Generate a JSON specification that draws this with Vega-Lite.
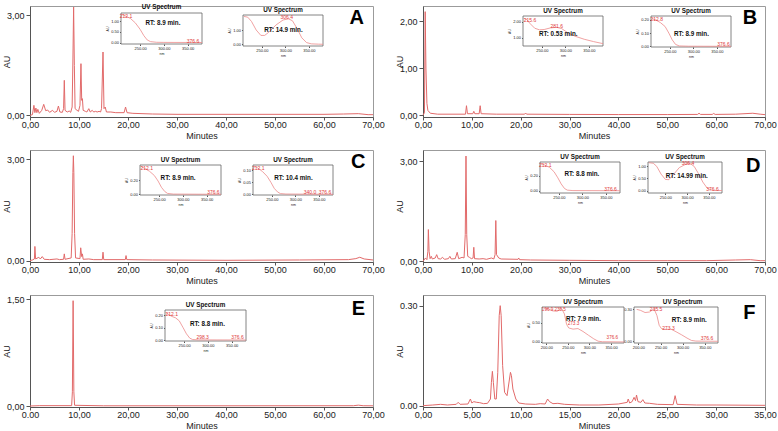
{
"$schema": "https://vega.github.io/schema/vega-lite/v6.json",
"padding": {"left": 1, "top": 3, "right": 0, "bottom": 0},
"background": "white",
"datasets": {
"chrom": [
{"p":"A","t":0,"y":0},{"p":"A","t":0.5,"y":0.02},{"p":"A","t":0.8,"y":0.3},{"p":"A","t":1.0,"y":0.08},{"p":"A","t":1.2,"y":0.22},{"p":"A","t":1.4,"y":0.08},{"p":"A","t":1.6,"y":0.18},{"p":"A","t":1.9,"y":0.06},{"p":"A","t":2.4,"y":0.15},{"p":"A","t":2.8,"y":0.33},{"p":"A","t":3.2,"y":0.14},{"p":"A","t":3.6,"y":0.16},{"p":"A","t":4.0,"y":0.09},{"p":"A","t":4.6,"y":0.15},{"p":"A","t":5.0,"y":0.09},{"p":"A","t":5.5,"y":0.12},{"p":"A","t":5.8,"y":0.28},{"p":"A","t":6.1,"y":0.1},{"p":"A","t":6.6,"y":0.09},{"p":"A","t":6.85,"y":0.2},{"p":"A","t":7.0,"y":1.05},{"p":"A","t":7.15,"y":0.15},{"p":"A","t":7.6,"y":0.1},{"p":"A","t":8.0,"y":0.13},{"p":"A","t":8.3,"y":0.09},{"p":"A","t":8.6,"y":0.25},{"p":"A","t":8.75,"y":1.6},{"p":"A","t":8.9,"y":3.25},{"p":"A","t":9.05,"y":1.5},{"p":"A","t":9.2,"y":0.2},{"p":"A","t":9.6,"y":0.15},{"p":"A","t":9.9,"y":0.12},{"p":"A","t":10.2,"y":0.3},{"p":"A","t":10.4,"y":1.55},{"p":"A","t":10.55,"y":0.45},{"p":"A","t":10.7,"y":0.5},{"p":"A","t":10.85,"y":0.15},{"p":"A","t":11.3,"y":0.12},{"p":"A","t":11.6,"y":0.1},{"p":"A","t":12.0,"y":0.2},{"p":"A","t":12.3,"y":0.1},{"p":"A","t":12.7,"y":0.15},{"p":"A","t":13.0,"y":0.1},{"p":"A","t":13.4,"y":0.12},{"p":"A","t":13.7,"y":0.1},{"p":"A","t":14.1,"y":0.12},{"p":"A","t":14.4,"y":0.1},{"p":"A","t":14.6,"y":0.2},{"p":"A","t":14.9,"y":1.9},{"p":"A","t":15.1,"y":0.2},{"p":"A","t":15.35,"y":0.25},{"p":"A","t":15.6,"y":0.1},{"p":"A","t":16.5,"y":0.1},{"p":"A","t":17.5,"y":0.08},{"p":"A","t":19.2,"y":0.08},{"p":"A","t":19.5,"y":0.25},{"p":"A","t":19.8,"y":0.08},{"p":"A","t":21,"y":0.06},{"p":"A","t":25,"y":0.04},{"p":"A","t":30,"y":0.03},{"p":"A","t":40,"y":0.03},{"p":"A","t":50,"y":0.03},{"p":"A","t":60,"y":0.03},{"p":"A","t":64,"y":0.04},{"p":"A","t":67,"y":0.05},{"p":"A","t":69,"y":0.02},{"p":"A","t":70,"y":0.02},
{"p":"B","t":0,"y":0},{"p":"B","t":0.3,"y":0.05},{"p":"B","t":0.45,"y":2.2},{"p":"B","t":0.6,"y":1.0},{"p":"B","t":0.8,"y":0.25},{"p":"B","t":1.0,"y":0.1},{"p":"B","t":1.5,"y":0.04},{"p":"B","t":3,"y":0.02},{"p":"B","t":8.7,"y":0.02},{"p":"B","t":8.9,"y":0.2},{"p":"B","t":9.1,"y":0.03},{"p":"B","t":10.2,"y":0.03},{"p":"B","t":10.4,"y":0.08},{"p":"B","t":10.6,"y":0.03},{"p":"B","t":11.5,"y":0.03},{"p":"B","t":11.7,"y":0.2},{"p":"B","t":11.9,"y":0.03},{"p":"B","t":15,"y":0.02},{"p":"B","t":20.8,"y":0.02},{"p":"B","t":21.0,"y":0.045},{"p":"B","t":21.2,"y":0.02},{"p":"B","t":30,"y":0.015},{"p":"B","t":40,"y":0.012},{"p":"B","t":50,"y":0.012},{"p":"B","t":56.2,"y":0.015},{"p":"B","t":56.5,"y":0.04},{"p":"B","t":56.8,"y":0.015},{"p":"B","t":59.2,"y":0.015},{"p":"B","t":59.5,"y":0.035},{"p":"B","t":59.8,"y":0.015},{"p":"B","t":64,"y":0.02},{"p":"B","t":67.5,"y":0.04},{"p":"B","t":69,"y":0.02},{"p":"B","t":70,"y":0.01},
{"p":"C","t":0,"y":0},{"p":"C","t":0.5,"y":0.02},{"p":"C","t":0.9,"y":0.05},{"p":"C","t":1.0,"y":0.42},{"p":"C","t":1.15,"y":0.05},{"p":"C","t":1.8,"y":0.1},{"p":"C","t":2.1,"y":0.05},{"p":"C","t":2.5,"y":0.12},{"p":"C","t":2.9,"y":0.04},{"p":"C","t":4,"y":0.03},{"p":"C","t":5.5,"y":0.05},{"p":"C","t":6.0,"y":0.03},{"p":"C","t":6.85,"y":0.04},{"p":"C","t":7.0,"y":0.2},{"p":"C","t":7.15,"y":0.04},{"p":"C","t":8.4,"y":0.08},{"p":"C","t":8.6,"y":0.8},{"p":"C","t":8.75,"y":2.6},{"p":"C","t":8.85,"y":3.1},{"p":"C","t":8.95,"y":2.6},{"p":"C","t":9.1,"y":0.8},{"p":"C","t":9.3,"y":0.08},{"p":"C","t":10.2,"y":0.06},{"p":"C","t":10.35,"y":0.38},{"p":"C","t":10.55,"y":0.12},{"p":"C","t":10.7,"y":0.2},{"p":"C","t":10.85,"y":0.04},{"p":"C","t":12,"y":0.05},{"p":"C","t":13,"y":0.03},{"p":"C","t":14.75,"y":0.03},{"p":"C","t":14.9,"y":0.25},{"p":"C","t":15.05,"y":0.03},{"p":"C","t":19.45,"y":0.03},{"p":"C","t":19.6,"y":0.15},{"p":"C","t":19.75,"y":0.03},{"p":"C","t":25,"y":0.02},{"p":"C","t":40,"y":0.01},{"p":"C","t":55,"y":0.02},{"p":"C","t":65,"y":0.03},{"p":"C","t":66.5,"y":0.06},{"p":"C","t":67.3,"y":0.1},{"p":"C","t":68.2,"y":0.05},{"p":"C","t":70,"y":0.02},
{"p":"D","t":0,"y":0},{"p":"D","t":0.5,"y":0.1},{"p":"D","t":0.8,"y":0.05},{"p":"D","t":1.0,"y":0.3},{"p":"D","t":1.1,"y":0.95},{"p":"D","t":1.25,"y":0.3},{"p":"D","t":1.45,"y":0.08},{"p":"D","t":1.7,"y":0.15},{"p":"D","t":1.9,"y":0.07},{"p":"D","t":2.5,"y":0.1},{"p":"D","t":2.8,"y":0.2},{"p":"D","t":3.1,"y":0.08},{"p":"D","t":3.6,"y":0.07},{"p":"D","t":4.0,"y":0.12},{"p":"D","t":4.4,"y":0.06},{"p":"D","t":5.2,"y":0.08},{"p":"D","t":5.5,"y":0.15},{"p":"D","t":5.8,"y":0.07},{"p":"D","t":6.6,"y":0.08},{"p":"D","t":7.0,"y":0.27},{"p":"D","t":7.3,"y":0.08},{"p":"D","t":8.0,"y":0.12},{"p":"D","t":8.4,"y":0.1},{"p":"D","t":8.65,"y":0.8},{"p":"D","t":8.8,"y":3.15},{"p":"D","t":8.95,"y":0.8},{"p":"D","t":9.15,"y":0.15},{"p":"D","t":9.5,"y":0.12},{"p":"D","t":9.9,"y":0.08},{"p":"D","t":10.25,"y":0.1},{"p":"D","t":10.4,"y":0.42},{"p":"D","t":10.55,"y":0.08},{"p":"D","t":11.5,"y":0.07},{"p":"D","t":12.3,"y":0.08},{"p":"D","t":13.0,"y":0.06},{"p":"D","t":14.0,"y":0.1},{"p":"D","t":14.5,"y":0.07},{"p":"D","t":14.75,"y":0.2},{"p":"D","t":14.9,"y":1.22},{"p":"D","t":15.05,"y":0.2},{"p":"D","t":15.5,"y":0.1},{"p":"D","t":16,"y":0.07},{"p":"D","t":19.45,"y":0.06},{"p":"D","t":19.6,"y":0.1},{"p":"D","t":19.75,"y":0.05},{"p":"D","t":22,"y":0.04},{"p":"D","t":30,"y":0.03},{"p":"D","t":40,"y":0.02},{"p":"D","t":50,"y":0.02},{"p":"D","t":58,"y":0.02},{"p":"D","t":64,"y":0.04},{"p":"D","t":67,"y":0.05},{"p":"D","t":69,"y":0.02},{"p":"D","t":70,"y":0.02},
{"p":"E","t":0,"y":0},{"p":"E","t":2,"y":0.005},{"p":"E","t":8.5,"y":0.005},{"p":"E","t":8.65,"y":0.2},{"p":"E","t":8.8,"y":1.48},{"p":"E","t":8.95,"y":0.2},{"p":"E","t":9.1,"y":0.01},{"p":"E","t":15,"y":0.003},{"p":"E","t":40,"y":0.003},{"p":"E","t":66,"y":0.004},{"p":"E","t":67,"y":0.012},{"p":"E","t":68,"y":0.004},{"p":"E","t":70,"y":0.003},
{"p":"F","t":0,"y":0},{"p":"F","t":1.0,"y":0.002},{"p":"F","t":1.8,"y":0.004},{"p":"F","t":2.5,"y":0.002},{"p":"F","t":3.4,"y":0.004},{"p":"F","t":3.6,"y":0.01},{"p":"F","t":3.8,"y":0.004},{"p":"F","t":4.6,"y":0.005},{"p":"F","t":4.85,"y":0.02},{"p":"F","t":5.0,"y":0.008},{"p":"F","t":5.2,"y":0.012},{"p":"F","t":5.5,"y":0.01},{"p":"F","t":5.8,"y":0.009},{"p":"F","t":6.2,"y":0.006},{"p":"F","t":6.6,"y":0.007},{"p":"F","t":6.9,"y":0.02},{"p":"F","t":7.0,"y":0.07},{"p":"F","t":7.1,"y":0.103},{"p":"F","t":7.2,"y":0.07},{"p":"F","t":7.35,"y":0.02},{"p":"F","t":7.5,"y":0.02},{"p":"F","t":7.65,"y":0.1},{"p":"F","t":7.8,"y":0.27},{"p":"F","t":7.9,"y":0.3},{"p":"F","t":8.0,"y":0.27},{"p":"F","t":8.15,"y":0.12},{"p":"F","t":8.35,"y":0.04},{"p":"F","t":8.6,"y":0.03},{"p":"F","t":8.85,"y":0.08},{"p":"F","t":8.95,"y":0.1},{"p":"F","t":9.05,"y":0.09},{"p":"F","t":9.2,"y":0.05},{"p":"F","t":9.35,"y":0.035},{"p":"F","t":9.5,"y":0.02},{"p":"F","t":9.8,"y":0.008},{"p":"F","t":10.5,"y":0.005},{"p":"F","t":11.5,"y":0.004},{"p":"F","t":12.0,"y":0.006},{"p":"F","t":12.5,"y":0.005},{"p":"F","t":12.75,"y":0.02},{"p":"F","t":12.95,"y":0.012},{"p":"F","t":13.3,"y":0.006},{"p":"F","t":13.8,"y":0.007},{"p":"F","t":14.5,"y":0.004},{"p":"F","t":16,"y":0.002},{"p":"F","t":18,"y":0.002},{"p":"F","t":20,"y":0.005},{"p":"F","t":20.9,"y":0.01},{"p":"F","t":21.0,"y":0.02},{"p":"F","t":21.15,"y":0.008},{"p":"F","t":21.4,"y":0.012},{"p":"F","t":21.6,"y":0.025},{"p":"F","t":21.75,"y":0.015},{"p":"F","t":21.85,"y":0.032},{"p":"F","t":22.0,"y":0.012},{"p":"F","t":22.3,"y":0.01},{"p":"F","t":22.5,"y":0.018},{"p":"F","t":22.7,"y":0.008},{"p":"F","t":23.2,"y":0.007},{"p":"F","t":24,"y":0.004},{"p":"F","t":25.6,"y":0.003},{"p":"F","t":25.8,"y":0.03},{"p":"F","t":26.0,"y":0.004},{"p":"F","t":28,"y":0.002},{"p":"F","t":30,"y":0.002},{"p":"F","t":35,"y":0.001}
],
"spec": [
{"k":"A1","nm":212,"y":1.32},{"k":"A1","nm":220,"y":1.24},{"k":"A1","nm":230,"y":1.12},{"k":"A1","nm":240,"y":0.92},{"k":"A1","nm":250,"y":0.62},{"k":"A1","nm":258,"y":0.32},{"k":"A1","nm":265,"y":0.12},{"k":"A1","nm":272,"y":0.04},{"k":"A1","nm":285,"y":0.01},{"k":"A1","nm":300,"y":0.005},{"k":"A1","nm":380,"y":0},
{"k":"A2","nm":212,"y":1.95},{"k":"A2","nm":220,"y":1.9},{"k":"A2","nm":228,"y":1.6},{"k":"A2","nm":238,"y":1.0},{"k":"A2","nm":248,"y":0.62},{"k":"A2","nm":256,"y":0.62},{"k":"A2","nm":265,"y":0.85},{"k":"A2","nm":280,"y":1.35},{"k":"A2","nm":295,"y":1.7},{"k":"A2","nm":306.4,"y":1.78},{"k":"A2","nm":315,"y":1.65},{"k":"A2","nm":325,"y":1.1},{"k":"A2","nm":335,"y":0.45},{"k":"A2","nm":345,"y":0.12},{"k":"A2","nm":355,"y":0.03},{"k":"A2","nm":370,"y":0.01},{"k":"A2","nm":380,"y":0},
{"k":"B1","nm":212,"y":2.22},{"k":"B1","nm":218,"y":2.15},{"k":"B1","nm":225,"y":1.9},{"k":"B1","nm":235,"y":1.6},{"k":"B1","nm":245,"y":1.5},{"k":"B1","nm":255,"y":1.52},{"k":"B1","nm":268,"y":1.62},{"k":"B1","nm":281.6,"y":1.66},{"k":"B1","nm":292,"y":1.58},{"k":"B1","nm":305,"y":1.32},{"k":"B1","nm":320,"y":1.1},{"k":"B1","nm":340,"y":0.9},{"k":"B1","nm":360,"y":0.75},{"k":"B1","nm":380,"y":0.62},
{"k":"B2","nm":212,"y":0.21},{"k":"B2","nm":220,"y":0.2},{"k":"B2","nm":230,"y":0.18},{"k":"B2","nm":240,"y":0.15},{"k":"B2","nm":248,"y":0.1},{"k":"B2","nm":255,"y":0.05},{"k":"B2","nm":262,"y":0.015},{"k":"B2","nm":270,"y":0.003},{"k":"B2","nm":290,"y":0.001},{"k":"B2","nm":380,"y":0},
{"k":"C1","nm":212,"y":0.4},{"k":"C1","nm":220,"y":0.37},{"k":"C1","nm":230,"y":0.33},{"k":"C1","nm":240,"y":0.27},{"k":"C1","nm":248,"y":0.19},{"k":"C1","nm":255,"y":0.1},{"k":"C1","nm":262,"y":0.04},{"k":"C1","nm":268,"y":0.012},{"k":"C1","nm":280,"y":0.003},{"k":"C1","nm":380,"y":0},
{"k":"C2","nm":212,"y":0.118},{"k":"C2","nm":220,"y":0.11},{"k":"C2","nm":230,"y":0.095},{"k":"C2","nm":240,"y":0.075},{"k":"C2","nm":248,"y":0.05},{"k":"C2","nm":255,"y":0.025},{"k":"C2","nm":262,"y":0.01},{"k":"C2","nm":268,"y":0.003},{"k":"C2","nm":280,"y":0.001},{"k":"C2","nm":380,"y":0},
{"k":"D1","nm":212,"y":0.36},{"k":"D1","nm":220,"y":0.34},{"k":"D1","nm":230,"y":0.31},{"k":"D1","nm":240,"y":0.25},{"k":"D1","nm":248,"y":0.17},{"k":"D1","nm":255,"y":0.09},{"k":"D1","nm":262,"y":0.03},{"k":"D1","nm":268,"y":0.008},{"k":"D1","nm":280,"y":0.002},{"k":"D1","nm":380,"y":0},
{"k":"D2","nm":212,"y":1.15},{"k":"D2","nm":222,"y":1.13},{"k":"D2","nm":230,"y":1.0},{"k":"D2","nm":240,"y":0.68},{"k":"D2","nm":250,"y":0.46},{"k":"D2","nm":258,"y":0.45},{"k":"D2","nm":268,"y":0.65},{"k":"D2","nm":282,"y":0.95},{"k":"D2","nm":296,"y":1.08},{"k":"D2","nm":306.4,"y":1.12},{"k":"D2","nm":316,"y":1.0},{"k":"D2","nm":326,"y":0.7},{"k":"D2","nm":336,"y":0.35},{"k":"D2","nm":346,"y":0.1},{"k":"D2","nm":356,"y":0.02},{"k":"D2","nm":366,"y":0.005},{"k":"D2","nm":380,"y":0},
{"k":"E1","nm":212,"y":0.22},{"k":"E1","nm":218,"y":0.205},{"k":"E1","nm":225,"y":0.19},{"k":"E1","nm":232,"y":0.18},{"k":"E1","nm":240,"y":0.155},{"k":"E1","nm":248,"y":0.1},{"k":"E1","nm":255,"y":0.05},{"k":"E1","nm":262,"y":0.015},{"k":"E1","nm":268,"y":0.004},{"k":"E1","nm":280,"y":0.001},{"k":"E1","nm":380,"y":0},
{"k":"F1","nm":196,"y":0.86},{"k":"F1","nm":205,"y":0.85},{"k":"F1","nm":215,"y":0.8},{"k":"F1","nm":225,"y":0.79},{"k":"F1","nm":235.5,"y":0.86},{"k":"F1","nm":242,"y":0.72},{"k":"F1","nm":247,"y":0.45},{"k":"F1","nm":252,"y":0.36},{"k":"F1","nm":262,"y":0.33},{"k":"F1","nm":273.3,"y":0.345},{"k":"F1","nm":285,"y":0.27},{"k":"F1","nm":298,"y":0.17},{"k":"F1","nm":310,"y":0.08},{"k":"F1","nm":320,"y":0.02},{"k":"F1","nm":330,"y":0.005},{"k":"F1","nm":380,"y":0},
{"k":"F2","nm":196,"y":0.3},{"k":"F2","nm":205,"y":0.29},{"k":"F2","nm":215,"y":0.27},{"k":"F2","nm":225,"y":0.275},{"k":"F2","nm":235.5,"y":0.305},{"k":"F2","nm":242,"y":0.24},{"k":"F2","nm":247,"y":0.15},{"k":"F2","nm":252,"y":0.12},{"k":"F2","nm":262,"y":0.11},{"k":"F2","nm":273.3,"y":0.115},{"k":"F2","nm":285,"y":0.09},{"k":"F2","nm":298,"y":0.06},{"k":"F2","nm":310,"y":0.03},{"k":"F2","nm":320,"y":0.008},{"k":"F2","nm":330,"y":0.002},{"k":"F2","nm":380,"y":0}
],
"lab": [
{"k":"A1","nm":220.5,"y":1.24,"txt":"212.1"},{"k":"A1","nm":361,"y":0.09,"txt":"376.6"},
{"k":"A2","nm":303,"y":1.88,"txt":"306.4"},
{"k":"B1","nm":225,"y":2.11,"txt":"215.6"},{"k":"B1","nm":281.6,"y":1.74,"txt":"281.6"},
{"k":"B2","nm":222,"y":0.205,"txt":"212.8"},{"k":"B2","nm":364,"y":0.015,"txt":"376.6"},
{"k":"C1","nm":224,"y":0.37,"txt":"212.1"},{"k":"C1","nm":364,"y":0.03,"txt":"376.6"},
{"k":"C2","nm":221,"y":0.108,"txt":"212.1"},{"k":"C2","nm":331,"y":0.01,"txt":"340.0"},{"k":"C2","nm":363,"y":0.01,"txt":"376.6"},
{"k":"D1","nm":221,"y":0.34,"txt":"212.1"},{"k":"D1","nm":360,"y":0.02,"txt":"376.6"},
{"k":"D2","nm":302,"y":1.12,"txt":"306.4"},{"k":"D2","nm":358,"y":0.08,"txt":"376.6"},
{"k":"E1","nm":224,"y":0.21,"txt":"212.1"},{"k":"E1","nm":289,"y":0.024,"txt":"298.3"},{"k":"E1","nm":362,"y":0.024,"txt":"376.6"},
{"k":"F1","nm":203,"y":0.83,"txt":"196.9"},{"k":"F1","nm":232,"y":0.83,"txt":"235.5"},{"k":"F1","nm":263,"y":0.45,"txt":"273.3"},{"k":"F1","nm":353,"y":0.09,"txt":"376.6"},
{"k":"F2","nm":240,"y":0.3,"txt":"235.5"},{"k":"F2","nm":268,"y":0.125,"txt":"273.3"},{"k":"F2","nm":355,"y":0.03,"txt":"376.6"}
],
"txt": [
{"k":"A1","nm":295,"y":1.66,"txt":"UV Spectrum"},{"k":"A1","nm":298,"y":0.93,"txt":"RT: 8.9 min."},
{"k":"A2","nm":295,"y":2.41,"txt":"UV Spectrum"},{"k":"A2","nm":296,"y":1.0,"txt":"RT: 14.9 min."},
{"k":"B1","nm":295,"y":2.7,"txt":"UV Spectrum"},{"k":"B1","nm":285,"y":1.21,"txt":"RT: 0.53 min."},
{"k":"B2","nm":295,"y":0.268,"txt":"UV Spectrum"},{"k":"B2","nm":296,"y":0.09,"txt":"RT: 8.9 min."},
{"k":"C1","nm":295,"y":0.492,"txt":"UV Spectrum"},{"k":"C1","nm":290,"y":0.237,"txt":"RT: 8.9 min."},
{"k":"C2","nm":295,"y":0.143,"txt":"UV Spectrum"},{"k":"C2","nm":296,"y":0.069,"txt":"RT: 10.4 min."},
{"k":"D1","nm":295,"y":0.446,"txt":"UV Spectrum"},{"k":"D1","nm":299,"y":0.221,"txt":"RT: 8.8 min."},
{"k":"D2","nm":295,"y":1.39,"txt":"UV Spectrum"},{"k":"D2","nm":299,"y":0.62,"txt":"RT: 14.99 min."},
{"k":"E1","nm":295,"y":0.283,"txt":"UV Spectrum"},{"k":"E1","nm":299,"y":0.132,"txt":"RT: 8.8 min."},
{"k":"F1","nm":285,"y":1.04,"txt":"UV Spectrum"},{"k":"F1","nm":286,"y":0.58,"txt":"RT: 7.9 min."},
{"k":"F2","nm":300,"y":0.372,"txt":"UV Spectrum"},{"k":"F2","nm":315,"y":0.2,"txt":"RT: 8.9 min."}
]
},
"columns": 2,
"spacing": {"row": 33, "column": 50},
"bounds": "flush",
"concat": [
{"width":343,"height":111,
"layer":[
{"layer":[
{"data":{"name":"chrom"},"transform":[{"filter":"datum.p==='A'"}],"mark":{"type":"line","color":"#e26a6a","strokeWidth":1},
"encoding":{"x":{"field":"t","type":"quantitative","title":"Minutes","scale":{"domain":[0,70],"nice":false,"zero":false},"axis":{"values":[0,10,20,30,40,50,60,70],"labelExpr":"replace(format(datum.value, '.2f'), '.', ',')","tickSize":3}},
"y":{"field":"y","type":"quantitative","title":"AU","scale":{"domain":[-0.05,3.28],"nice":false,"zero":false},"axis":{"values":[0,1,2,3],"labelExpr":"replace(format(datum.value, '.2f'), '.', ',')","tickSize":4}}}},
{"data":{"values":[{}]},"mark":{"type":"text","text":"A","fontSize":20,"fontWeight":"bold","color":"#000"},"encoding":{"x":{"datum":66.7,"type":"quantitative"},"y":{"datum":2.92,"type":"quantitative"}}}
]},
{"layer":[
{"data":{"values":[{}]},"mark":{"type":"rect","fill":"#fff","stroke":"#666","strokeWidth":0.8},"encoding":{"x":{"datum":210,"type":"quantitative","scale":{"domain":[210,380],"range":[91,172],"nice":false,"zero":false},"axis":{"orient":"bottom","offset":-73,"values":[250,300,350],"format":".2f","labelFontSize":4,"tickSize":1.5,"labelPadding":1,"domain":false,"title":"nm","titleFontSize":3.5,"titlePadding":1}},"x2":{"datum":380},"y":{"datum":-0.07,"type":"quantitative","scale":{"domain":[-0.07,1.38],"range":[38,7],"nice":false,"zero":false},"axis":{"orient":"left","offset":-91,"values":[0,0.5,1],"format":".2f","labelFontSize":4,"tickSize":1.5,"labelPadding":1,"domain":false,"title":"AU","titleFontSize":3.5,"titlePadding":1}},"y2":{"datum":1.38}}},
{"data":{"name":"spec"},"transform":[{"filter":"datum.k==='A1'"}],"mark":{"type":"line","color":"#ec8a8a","strokeWidth":0.8},"encoding":{"x":{"field":"nm","type":"quantitative"},"y":{"field":"y","type":"quantitative"}}},
{"data":{"name":"lab"},"transform":[{"filter":"datum.k==='A1'"}],"mark":{"type":"text","color":"#e03a3a","fontSize":5},"encoding":{"x":{"field":"nm","type":"quantitative"},"y":{"field":"y","type":"quantitative"},"text":{"field":"txt"}}},
{"data":{"name":"txt"},"transform":[{"filter":"datum.k==='A1'"}],"mark":{"type":"text","color":"#111","fontSize":6.3,"fontWeight":"bold"},"encoding":{"x":{"field":"nm","type":"quantitative"},"y":{"field":"y","type":"quantitative"},"text":{"field":"txt"}}}
]},
{"layer":[
{"data":{"values":[{}]},"mark":{"type":"rect","fill":"#fff","stroke":"#666","strokeWidth":0.8},"encoding":{"x":{"datum":210,"type":"quantitative","scale":{"domain":[210,380],"range":[213,293],"nice":false,"zero":false},"axis":{"orient":"bottom","offset":-71,"values":[250,300,350],"format":".2f","labelFontSize":4,"tickSize":1.5,"labelPadding":1,"domain":false,"title":"nm","titleFontSize":3.5,"titlePadding":1}},"x2":{"datum":380},"y":{"datum":-0.12,"type":"quantitative","scale":{"domain":[-0.12,2.05],"range":[40,9],"nice":false,"zero":false},"axis":{"orient":"left","offset":-213,"values":[0,1],"format":".2f","labelFontSize":4,"tickSize":1.5,"labelPadding":1,"domain":false,"title":"AU","titleFontSize":3.5,"titlePadding":1}},"y2":{"datum":2.05}}},
{"data":{"name":"spec"},"transform":[{"filter":"datum.k==='A2'"}],"mark":{"type":"line","color":"#ec8a8a","strokeWidth":0.8},"encoding":{"x":{"field":"nm","type":"quantitative"},"y":{"field":"y","type":"quantitative"}}},
{"data":{"name":"lab"},"transform":[{"filter":"datum.k==='A2'"}],"mark":{"type":"text","color":"#e03a3a","fontSize":5},"encoding":{"x":{"field":"nm","type":"quantitative"},"y":{"field":"y","type":"quantitative"},"text":{"field":"txt"}}},
{"data":{"name":"txt"},"transform":[{"filter":"datum.k==='A2'"}],"mark":{"type":"text","color":"#111","fontSize":6.3,"fontWeight":"bold"},"encoding":{"x":{"field":"nm","type":"quantitative"},"y":{"field":"y","type":"quantitative"},"text":{"field":"txt"}}}
]}
],
"resolve":{"scale":{"x":"independent","y":"independent"},"axis":{"x":"independent","y":"independent"}}},

{"width":342,"height":111,
"layer":[
{"layer":[
{"data":{"name":"chrom"},"transform":[{"filter":"datum.p==='B'"}],"mark":{"type":"line","color":"#e26a6a","strokeWidth":1},
"encoding":{"x":{"field":"t","type":"quantitative","title":"Minutes","scale":{"domain":[0,70],"nice":false,"zero":false},"axis":{"values":[0,10,20,30,40,50,60,70],"labelExpr":"replace(format(datum.value, '.2f'), '.', ',')","tickSize":3}},
"y":{"field":"y","type":"quantitative","title":"AU","scale":{"domain":[-0.04,2.32],"nice":false,"zero":false},"axis":{"values":[0,0.5,1,1.5,2],"labelExpr":"replace(format(datum.value, '.2f'), '.', ',')","tickSize":4}}}},
{"data":{"values":[{}]},"mark":{"type":"text","text":"B","fontSize":20,"fontWeight":"bold","color":"#000"},"encoding":{"x":{"datum":66.9,"type":"quantitative"},"y":{"datum":2.07,"type":"quantitative"}}}
]},
{"layer":[
{"data":{"values":[{}]},"mark":{"type":"rect","fill":"#fff","stroke":"#666","strokeWidth":0.8},"encoding":{"x":{"datum":210,"type":"quantitative","scale":{"domain":[210,380],"range":[100,180],"nice":false,"zero":false},"axis":{"orient":"bottom","offset":-71,"values":[250,300,350],"format":".2f","labelFontSize":4,"tickSize":1.5,"labelPadding":1,"domain":false,"title":"nm","titleFontSize":3.5,"titlePadding":1}},"x2":{"datum":380},"y":{"datum":0.47,"type":"quantitative","scale":{"domain":[0.47,2.38],"range":[40,10],"nice":false,"zero":false},"axis":{"orient":"left","offset":-100,"values":[1,2],"format":".2f","labelFontSize":4,"tickSize":1.5,"labelPadding":1,"domain":false,"title":"AU","titleFontSize":3.5,"titlePadding":1}},"y2":{"datum":2.38}}},
{"data":{"name":"spec"},"transform":[{"filter":"datum.k==='B1'"}],"mark":{"type":"line","color":"#ec8a8a","strokeWidth":0.8},"encoding":{"x":{"field":"nm","type":"quantitative"},"y":{"field":"y","type":"quantitative"}}},
{"data":{"name":"lab"},"transform":[{"filter":"datum.k==='B1'"}],"mark":{"type":"text","color":"#e03a3a","fontSize":5},"encoding":{"x":{"field":"nm","type":"quantitative"},"y":{"field":"y","type":"quantitative"},"text":{"field":"txt"}}},
{"data":{"name":"txt"},"transform":[{"filter":"datum.k==='B1'"}],"mark":{"type":"text","color":"#111","fontSize":6.3,"fontWeight":"bold"},"encoding":{"x":{"field":"nm","type":"quantitative"},"y":{"field":"y","type":"quantitative"},"text":{"field":"txt"}}}
]},
{"layer":[
{"data":{"values":[{}]},"mark":{"type":"rect","fill":"#fff","stroke":"#666","strokeWidth":0.8},"encoding":{"x":{"datum":210,"type":"quantitative","scale":{"domain":[210,380],"range":[228,308],"nice":false,"zero":false},"axis":{"orient":"bottom","offset":-70,"values":[250,300,350],"format":".2f","labelFontSize":4,"tickSize":1.5,"labelPadding":1,"domain":false,"title":"nm","titleFontSize":3.5,"titlePadding":1}},"x2":{"datum":380},"y":{"datum":-0.005,"type":"quantitative","scale":{"domain":[-0.005,0.23],"range":[41,10],"nice":false,"zero":false},"axis":{"orient":"left","offset":-228,"values":[0,0.1,0.2],"format":".2f","labelFontSize":4,"tickSize":1.5,"labelPadding":1,"domain":false,"title":"AU","titleFontSize":3.5,"titlePadding":1}},"y2":{"datum":0.23}}},
{"data":{"name":"spec"},"transform":[{"filter":"datum.k==='B2'"}],"mark":{"type":"line","color":"#ec8a8a","strokeWidth":0.8},"encoding":{"x":{"field":"nm","type":"quantitative"},"y":{"field":"y","type":"quantitative"}}},
{"data":{"name":"lab"},"transform":[{"filter":"datum.k==='B2'"}],"mark":{"type":"text","color":"#e03a3a","fontSize":5},"encoding":{"x":{"field":"nm","type":"quantitative"},"y":{"field":"y","type":"quantitative"},"text":{"field":"txt"}}},
{"data":{"name":"txt"},"transform":[{"filter":"datum.k==='B2'"}],"mark":{"type":"text","color":"#111","fontSize":6.3,"fontWeight":"bold"},"encoding":{"x":{"field":"nm","type":"quantitative"},"y":{"field":"y","type":"quantitative"},"text":{"field":"txt"}}}
]}
],
"resolve":{"scale":{"x":"independent","y":"independent"},"axis":{"x":"independent","y":"independent"}}},

{"width":343,"height":112,
"layer":[
{"layer":[
{"data":{"name":"chrom"},"transform":[{"filter":"datum.p==='C'"}],"mark":{"type":"line","color":"#e26a6a","strokeWidth":1},
"encoding":{"x":{"field":"t","type":"quantitative","title":"Minutes","scale":{"domain":[0,70],"nice":false,"zero":false},"axis":{"values":[0,10,20,30,40,50,60,70],"labelExpr":"replace(format(datum.value, '.2f'), '.', ',')","tickSize":3}},
"y":{"field":"y","type":"quantitative","title":"AU","scale":{"domain":[-0.04,3.27],"nice":false,"zero":false},"axis":{"values":[0,1,2,3],"labelExpr":"replace(format(datum.value, '.2f'), '.', ',')","tickSize":4}}}},
{"data":{"values":[{}]},"mark":{"type":"text","text":"C","fontSize":20,"fontWeight":"bold","color":"#000"},"encoding":{"x":{"datum":67,"type":"quantitative"},"y":{"datum":2.92,"type":"quantitative"}}}
]},
{"layer":[
{"data":{"values":[{}]},"mark":{"type":"rect","fill":"#fff","stroke":"#666","strokeWidth":0.8},"encoding":{"x":{"datum":210,"type":"quantitative","scale":{"domain":[210,380],"range":[110,191],"nice":false,"zero":false},"axis":{"orient":"bottom","offset":-67,"values":[250,300,350],"format":".2f","labelFontSize":4,"tickSize":1.5,"labelPadding":1,"domain":false,"title":"nm","titleFontSize":3.5,"titlePadding":1}},"x2":{"datum":380},"y":{"datum":-0.01,"type":"quantitative","scale":{"domain":[-0.01,0.42],"range":[45,15],"nice":false,"zero":false},"axis":{"orient":"left","offset":-110,"values":[0,0.2],"format":".2f","labelFontSize":4,"tickSize":1.5,"labelPadding":1,"domain":false,"title":"AU","titleFontSize":3.5,"titlePadding":1}},"y2":{"datum":0.42}}},
{"data":{"name":"spec"},"transform":[{"filter":"datum.k==='C1'"}],"mark":{"type":"line","color":"#ec8a8a","strokeWidth":0.8},"encoding":{"x":{"field":"nm","type":"quantitative"},"y":{"field":"y","type":"quantitative"}}},
{"data":{"name":"lab"},"transform":[{"filter":"datum.k==='C1'"}],"mark":{"type":"text","color":"#e03a3a","fontSize":5},"encoding":{"x":{"field":"nm","type":"quantitative"},"y":{"field":"y","type":"quantitative"},"text":{"field":"txt"}}},
{"data":{"name":"txt"},"transform":[{"filter":"datum.k==='C1'"}],"mark":{"type":"text","color":"#111","fontSize":6.3,"fontWeight":"bold"},"encoding":{"x":{"field":"nm","type":"quantitative"},"y":{"field":"y","type":"quantitative"},"text":{"field":"txt"}}}
]},
{"layer":[
{"data":{"values":[{}]},"mark":{"type":"rect","fill":"#fff","stroke":"#666","strokeWidth":0.8},"encoding":{"x":{"datum":210,"type":"quantitative","scale":{"domain":[210,380],"range":[223,303],"nice":false,"zero":false},"axis":{"orient":"bottom","offset":-67,"values":[250,300,350],"format":".2f","labelFontSize":4,"tickSize":1.5,"labelPadding":1,"domain":false,"title":"nm","titleFontSize":3.5,"titlePadding":1}},"x2":{"datum":380},"y":{"datum":-0.003,"type":"quantitative","scale":{"domain":[-0.003,0.122],"range":[45,15],"nice":false,"zero":false},"axis":{"orient":"left","offset":-223,"values":[0,0.05,0.1],"format":".2f","labelFontSize":4,"tickSize":1.5,"labelPadding":1,"domain":false,"title":"AU","titleFontSize":3.5,"titlePadding":1}},"y2":{"datum":0.122}}},
{"data":{"name":"spec"},"transform":[{"filter":"datum.k==='C2'"}],"mark":{"type":"line","color":"#ec8a8a","strokeWidth":0.8},"encoding":{"x":{"field":"nm","type":"quantitative"},"y":{"field":"y","type":"quantitative"}}},
{"data":{"name":"lab"},"transform":[{"filter":"datum.k==='C2'"}],"mark":{"type":"text","color":"#e03a3a","fontSize":5},"encoding":{"x":{"field":"nm","type":"quantitative"},"y":{"field":"y","type":"quantitative"},"text":{"field":"txt"}}},
{"data":{"name":"txt"},"transform":[{"filter":"datum.k==='C2'"}],"mark":{"type":"text","color":"#111","fontSize":6.3,"fontWeight":"bold"},"encoding":{"x":{"field":"nm","type":"quantitative"},"y":{"field":"y","type":"quantitative"},"text":{"field":"txt"}}}
]}
],
"resolve":{"scale":{"x":"independent","y":"independent"},"axis":{"x":"independent","y":"independent"}}},

{"width":342,"height":112,
"layer":[
{"layer":[
{"data":{"name":"chrom"},"transform":[{"filter":"datum.p==='D'"}],"mark":{"type":"line","color":"#e26a6a","strokeWidth":1},
"encoding":{"x":{"field":"t","type":"quantitative","title":"Minutes","scale":{"domain":[0,70],"nice":false,"zero":false},"axis":{"values":[0,10,20,30,40,50,60,70],"labelExpr":"replace(format(datum.value, '.2f'), '.', ',')","tickSize":3}},
"y":{"field":"y","type":"quantitative","title":"AU","scale":{"domain":[-0.02,3.33],"nice":false,"zero":false},"axis":{"values":[0,1,2,3],"labelExpr":"replace(format(datum.value, '.2f'), '.', ',')","tickSize":4}}}},
{"data":{"values":[{}]},"mark":{"type":"text","text":"D","fontSize":20,"fontWeight":"bold","color":"#000"},"encoding":{"x":{"datum":67.6,"type":"quantitative"},"y":{"datum":2.84,"type":"quantitative"}}}
]},
{"layer":[
{"data":{"values":[{}]},"mark":{"type":"rect","fill":"#fff","stroke":"#666","strokeWidth":0.8},"encoding":{"x":{"datum":210,"type":"quantitative","scale":{"domain":[210,380],"range":[117,197],"nice":false,"zero":false},"axis":{"orient":"bottom","offset":-69,"values":[250,300,350],"format":".2f","labelFontSize":4,"tickSize":1.5,"labelPadding":1,"domain":false,"title":"nm","titleFontSize":3.5,"titlePadding":1}},"x2":{"datum":380},"y":{"datum":-0.03,"type":"quantitative","scale":{"domain":[-0.03,0.38],"range":[43,12],"nice":false,"zero":false},"axis":{"orient":"left","offset":-117,"values":[0,0.2],"format":".2f","labelFontSize":4,"tickSize":1.5,"labelPadding":1,"domain":false,"title":"AU","titleFontSize":3.5,"titlePadding":1}},"y2":{"datum":0.38}}},
{"data":{"name":"spec"},"transform":[{"filter":"datum.k==='D1'"}],"mark":{"type":"line","color":"#ec8a8a","strokeWidth":0.8},"encoding":{"x":{"field":"nm","type":"quantitative"},"y":{"field":"y","type":"quantitative"}}},
{"data":{"name":"lab"},"transform":[{"filter":"datum.k==='D1'"}],"mark":{"type":"text","color":"#e03a3a","fontSize":5},"encoding":{"x":{"field":"nm","type":"quantitative"},"y":{"field":"y","type":"quantitative"},"text":{"field":"txt"}}},
{"data":{"name":"txt"},"transform":[{"filter":"datum.k==='D1'"}],"mark":{"type":"text","color":"#111","fontSize":6.3,"fontWeight":"bold"},"encoding":{"x":{"field":"nm","type":"quantitative"},"y":{"field":"y","type":"quantitative"},"text":{"field":"txt"}}}
]},
{"layer":[
{"data":{"values":[{}]},"mark":{"type":"rect","fill":"#fff","stroke":"#666","strokeWidth":0.8},"encoding":{"x":{"datum":210,"type":"quantitative","scale":{"domain":[210,380],"range":[225,299],"nice":false,"zero":false},"axis":{"orient":"bottom","offset":-69,"values":[250,300,350],"format":".2f","labelFontSize":4,"tickSize":1.5,"labelPadding":1,"domain":false,"title":"nm","titleFontSize":3.5,"titlePadding":1}},"x2":{"datum":380},"y":{"datum":-0.1,"type":"quantitative","scale":{"domain":[-0.1,1.18],"range":[43,12],"nice":false,"zero":false},"axis":{"orient":"left","offset":-225,"values":[0,0.5,1],"format":".2f","labelFontSize":4,"tickSize":1.5,"labelPadding":1,"domain":false,"title":"AU","titleFontSize":3.5,"titlePadding":1}},"y2":{"datum":1.18}}},
{"data":{"name":"spec"},"transform":[{"filter":"datum.k==='D2'"}],"mark":{"type":"line","color":"#ec8a8a","strokeWidth":0.8},"encoding":{"x":{"field":"nm","type":"quantitative"},"y":{"field":"y","type":"quantitative"}}},
{"data":{"name":"lab"},"transform":[{"filter":"datum.k==='D2'"}],"mark":{"type":"text","color":"#e03a3a","fontSize":5},"encoding":{"x":{"field":"nm","type":"quantitative"},"y":{"field":"y","type":"quantitative"},"text":{"field":"txt"}}},
{"data":{"name":"txt"},"transform":[{"filter":"datum.k==='D2'"}],"mark":{"type":"text","color":"#111","fontSize":6.3,"fontWeight":"bold"},"encoding":{"x":{"field":"nm","type":"quantitative"},"y":{"field":"y","type":"quantitative"},"text":{"field":"txt"}}}
]}
],
"resolve":{"scale":{"x":"independent","y":"independent"},"axis":{"x":"independent","y":"independent"}}},

{"width":343,"height":112,
"layer":[
{"layer":[
{"data":{"name":"chrom"},"transform":[{"filter":"datum.p==='E'"}],"mark":{"type":"line","color":"#e26a6a","strokeWidth":1},
"encoding":{"x":{"field":"t","type":"quantitative","title":"Minutes","scale":{"domain":[0,70],"nice":false,"zero":false},"axis":{"values":[0,10,20,30,40,50,60,70],"labelExpr":"datum.value === 0 ? '0.00' : replace(format(datum.value, '.2f'), '.', ',')","tickSize":3}},
"y":{"field":"y","type":"quantitative","title":"AU","scale":{"domain":[-0.014,1.56],"nice":false,"zero":false},"axis":{"values":[0,0.5,1,1.5],"labelExpr":"replace(format(datum.value, '.2f'), '.', ',')","tickSize":4}}}},
{"data":{"values":[{}]},"mark":{"type":"text","text":"E","fontSize":20,"fontWeight":"bold","color":"#000"},"encoding":{"x":{"datum":67,"type":"quantitative"},"y":{"datum":1.36,"type":"quantitative"}}}
]},
{"layer":[
{"data":{"values":[{}]},"mark":{"type":"rect","fill":"#fff","stroke":"#666","strokeWidth":0.8},"encoding":{"x":{"datum":210,"type":"quantitative","scale":{"domain":[210,380],"range":[135,216],"nice":false,"zero":false},"axis":{"orient":"bottom","offset":-66,"values":[250,300,350],"format":".2f","labelFontSize":4,"tickSize":1.5,"labelPadding":1,"domain":false,"title":"nm","titleFontSize":3.5,"titlePadding":1}},"x2":{"datum":380},"y":{"datum":-0.008,"type":"quantitative","scale":{"domain":[-0.008,0.243],"range":[46,15],"nice":false,"zero":false},"axis":{"orient":"left","offset":-135,"values":[0,0.1,0.2],"format":".2f","labelFontSize":4,"tickSize":1.5,"labelPadding":1,"domain":false,"title":"AU","titleFontSize":3.5,"titlePadding":1}},"y2":{"datum":0.243}}},
{"data":{"name":"spec"},"transform":[{"filter":"datum.k==='E1'"}],"mark":{"type":"line","color":"#ec8a8a","strokeWidth":0.8},"encoding":{"x":{"field":"nm","type":"quantitative"},"y":{"field":"y","type":"quantitative"}}},
{"data":{"name":"lab"},"transform":[{"filter":"datum.k==='E1'"}],"mark":{"type":"text","color":"#e03a3a","fontSize":5},"encoding":{"x":{"field":"nm","type":"quantitative"},"y":{"field":"y","type":"quantitative"},"text":{"field":"txt"}}},
{"data":{"name":"txt"},"transform":[{"filter":"datum.k==='E1'"}],"mark":{"type":"text","color":"#111","fontSize":6.3,"fontWeight":"bold"},"encoding":{"x":{"field":"nm","type":"quantitative"},"y":{"field":"y","type":"quantitative"},"text":{"field":"txt"}}}
]}
],
"resolve":{"scale":{"x":"independent","y":"independent"},"axis":{"x":"independent","y":"independent"}}},

{"width":342,"height":112,
"layer":[
{"layer":[
{"data":{"name":"chrom"},"transform":[{"filter":"datum.p==='F'"}],"mark":{"type":"line","color":"#e26a6a","strokeWidth":1},
"encoding":{"x":{"field":"t","type":"quantitative","title":"Minutes","scale":{"domain":[0,35],"nice":false,"zero":false},"axis":{"values":[0,5,10,15,20,25,30,35],"labelExpr":"replace(format(datum.value, '.2f'), '.', ',')","tickSize":3}},
"y":{"field":"y","type":"quantitative","title":"AU","scale":{"domain":[-0.004,0.332],"nice":false,"zero":false},"axis":{"values":[0,0.1,0.2,0.3],"format":".2f","tickSize":4}}}},
{"data":{"values":[{}]},"mark":{"type":"text","text":"F","fontSize":20,"fontWeight":"bold","color":"#000"},"encoding":{"x":{"datum":33.4,"type":"quantitative"},"y":{"datum":0.277,"type":"quantitative"}}}
]},
{"layer":[
{"data":{"values":[{}]},"mark":{"type":"rect","fill":"#fff","stroke":"#666","strokeWidth":0.8},"encoding":{"x":{"datum":190,"type":"quantitative","scale":{"domain":[190,380],"range":[119,201],"nice":false,"zero":false},"axis":{"orient":"bottom","offset":-64,"values":[200,250,300,350],"format":".2f","labelFontSize":4,"tickSize":1.5,"labelPadding":1,"domain":false,"title":"nm","titleFontSize":3.5,"titlePadding":1}},"x2":{"datum":380},"y":{"datum":-0.027,"type":"quantitative","scale":{"domain":[-0.027,0.9],"range":[48,12],"nice":false,"zero":false},"axis":{"orient":"left","offset":-119,"values":[0,0.5],"format":".2f","labelFontSize":4,"tickSize":1.5,"labelPadding":1,"domain":false,"title":"AU","titleFontSize":3.5,"titlePadding":1}},"y2":{"datum":0.9}}},
{"data":{"name":"spec"},"transform":[{"filter":"datum.k==='F1'"}],"mark":{"type":"line","color":"#ec8a8a","strokeWidth":0.8},"encoding":{"x":{"field":"nm","type":"quantitative"},"y":{"field":"y","type":"quantitative"}}},
{"data":{"name":"lab"},"transform":[{"filter":"datum.k==='F1'"}],"mark":{"type":"text","color":"#e03a3a","fontSize":4.6},"encoding":{"x":{"field":"nm","type":"quantitative"},"y":{"field":"y","type":"quantitative"},"text":{"field":"txt"}}},
{"data":{"name":"txt"},"transform":[{"filter":"datum.k==='F1'"}],"mark":{"type":"text","color":"#111","fontSize":6.3,"fontWeight":"bold"},"encoding":{"x":{"field":"nm","type":"quantitative"},"y":{"field":"y","type":"quantitative"},"text":{"field":"txt"}}}
]},
{"layer":[
{"data":{"values":[{}]},"mark":{"type":"rect","fill":"#fff","stroke":"#666","strokeWidth":0.8},"encoding":{"x":{"datum":190,"type":"quantitative","scale":{"domain":[190,380],"range":[211,295],"nice":false,"zero":false},"axis":{"orient":"bottom","offset":-64,"values":[200,250,300,350],"format":".2f","labelFontSize":4,"tickSize":1.5,"labelPadding":1,"domain":false,"title":"nm","titleFontSize":3.5,"titlePadding":1}},"x2":{"datum":380},"y":{"datum":-0.016,"type":"quantitative","scale":{"domain":[-0.016,0.322],"range":[48,12],"nice":false,"zero":false},"axis":{"orient":"left","offset":-211,"values":[0,0.1,0.2,0.3],"format":".2f","labelFontSize":4,"tickSize":1.5,"labelPadding":1,"domain":false,"title":"AU","titleFontSize":3.5,"titlePadding":1}},"y2":{"datum":0.322}}},
{"data":{"name":"spec"},"transform":[{"filter":"datum.k==='F2'"}],"mark":{"type":"line","color":"#ec8a8a","strokeWidth":0.8},"encoding":{"x":{"field":"nm","type":"quantitative"},"y":{"field":"y","type":"quantitative"}}},
{"data":{"name":"lab"},"transform":[{"filter":"datum.k==='F2'"}],"mark":{"type":"text","color":"#e03a3a","fontSize":5},"encoding":{"x":{"field":"nm","type":"quantitative"},"y":{"field":"y","type":"quantitative"},"text":{"field":"txt"}}},
{"data":{"name":"txt"},"transform":[{"filter":"datum.k==='F2'"}],"mark":{"type":"text","color":"#111","fontSize":6.3,"fontWeight":"bold"},"encoding":{"x":{"field":"nm","type":"quantitative"},"y":{"field":"y","type":"quantitative"},"text":{"field":"txt"}}}
]}
],
"resolve":{"scale":{"x":"independent","y":"independent"},"axis":{"x":"independent","y":"independent"}}}
],
"config": {
"font": "Liberation Sans",
"view": {"stroke": "#9b9b9b", "strokeWidth": 1},
"axis": {"grid": false, "domainColor": "#555", "tickColor": "#555", "labelColor": "#222", "titleColor": "#222", "labelFont": "Liberation Sans", "titleFont": "Liberation Sans", "titleFontWeight": "normal", "labelFontSize": 9, "titleFontSize": 9, "labelFlush": false, "labelOverlap": false},
"axisX": {"titlePadding": 2, "labelPadding": 0},
"axisY": {"titlePadding": -5, "labelPadding": 2},
"text": {"font": "Liberation Sans"}
}
}
